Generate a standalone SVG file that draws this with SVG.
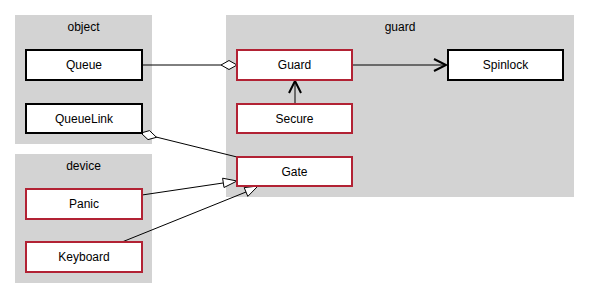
<svg xmlns="http://www.w3.org/2000/svg" width="589" height="299" viewBox="0 0 589 299">
<style>
.cl{fill:#d3d3d3;stroke:none}
.ct{font-family:"Liberation Sans",Arial,sans-serif;font-size:12px;fill:#000;text-anchor:middle}
.nb{fill:#fff;stroke:#000;stroke-width:2}
.nr{fill:#fff;stroke:#b22234;stroke-width:2}
.nt{font-family:"Liberation Sans",Arial,sans-serif;font-size:12px;fill:#000;text-anchor:middle}
.e{fill:none;stroke:#000;stroke-width:1}
.hd{fill:#fff;stroke:#000;stroke-width:1}
.v{fill:none;stroke:#000;stroke-width:2}
</style>
<rect width="589" height="299" fill="#fff"/>
<g id="cluster-object"><rect class="cl" x="15" y="15" width="137" height="129"/><text class="ct" x="83.5" y="31">object</text></g>
<g id="cluster-device"><rect class="cl" x="15" y="154" width="137" height="129"/><text class="ct" x="83.5" y="170">device</text></g>
<g id="cluster-guard"><rect class="cl" x="226" y="15" width="348" height="182"/><text class="ct" x="400" y="31">guard</text></g>
<g id="connectors">
<line class="e" x1="142" y1="65" x2="221" y2="65"/>
<polygon class="hd" points="221,65 229,60.5 237,65 229,69.5"/>
<line class="e" x1="352" y1="65" x2="446" y2="65"/>
<polyline class="v" points="434,59 446,65 434,71"/>
<line class="e" x1="295" y1="104" x2="295" y2="81"/>
<polyline class="v" points="289,93 295,81 301,93"/>
<line class="e" x1="156" y1="137" x2="237" y2="157"/>
<polygon class="hd" points="141,133 149.5,130.6 156.5,137.3 148,139.6"/>
<line class="e" x1="142" y1="195" x2="223" y2="183"/>
<polygon class="hd" points="237,181 224,187.5 222.6,178.2"/>
<line class="e" x1="122" y1="242" x2="246" y2="192"/>
<polygon class="hd" points="258,186 247.8,196.4 244.2,187.6"/>
</g>
<g id="node-Queue"><rect class="nb" x="26" y="50" width="116" height="30"/><text class="nt" x="84" y="69">Queue</text></g>
<g id="node-QueueLink"><rect class="nb" x="26" y="104" width="116" height="29"/><text class="nt" x="84" y="122.5">QueueLink</text></g>
<g id="node-Panic"><rect class="nr" x="26" y="189" width="116" height="30"/><text class="nt" x="84" y="208">Panic</text></g>
<g id="node-Keyboard"><rect class="nr" x="26" y="242" width="116" height="30"/><text class="nt" x="84" y="261">Keyboard</text></g>
<g id="node-Guard"><rect class="nr" x="237" y="50" width="115" height="30"/><text class="nt" x="294.5" y="69">Guard</text></g>
<g id="node-Secure"><rect class="nr" x="237" y="104" width="115" height="29"/><text class="nt" x="294.5" y="122.5">Secure</text></g>
<g id="node-Gate"><rect class="nr" x="237" y="157" width="115" height="29"/><text class="nt" x="294.5" y="175.5">Gate</text></g>
<g id="node-Spinlock"><rect class="nb" x="448" y="50" width="115" height="30"/><text class="nt" x="505.5" y="69">Spinlock</text></g>
</svg>
